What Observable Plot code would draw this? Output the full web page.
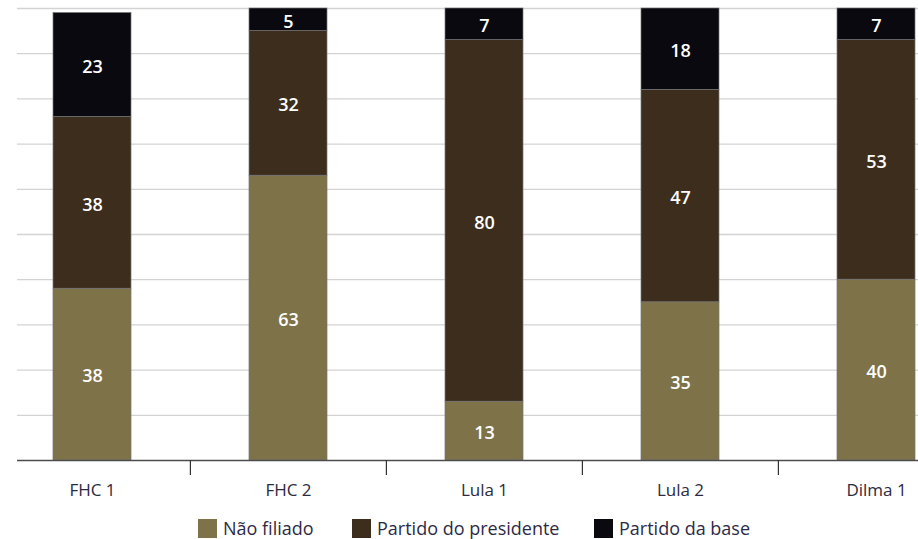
<!DOCTYPE html>
<html>
<head>
<meta charset="utf-8">
<script src="https://cdn.jsdelivr.net/npm/d3@7"></script>
<script src="https://cdn.jsdelivr.net/npm/@observablehq/plot@0.6"></script>
<style>
  body { margin: 0; background: #fff; font-family: "Open Sans", sans-serif; }
  #chart { position: relative; width: 918px; height: 539px; overflow: hidden; }
  #chart svg { display: block; }
  .legend { position: absolute; left: 0; top: 519px; width: 918px; height: 20px;
            font-size: 18px; color: #2e2a45; line-height: 19px; white-space: nowrap; }
  .legend .item { position: absolute; top: 0; display: flex; align-items: center; }
  .legend .sw { width: 19px; height: 19px; margin-right: 6px; flex: none; }
</style>
</head>
<body>
<div id="chart"></div>
<script>
// Mandates and the share of each group (percent)
const mandates = ["FHC 1", "FHC 2", "Lula 1", "Lula 2", "Dilma 1"];
const naoFiliado = [38, 63, 13, 35, 40];
const partidoPresidente = [38, 32, 80, 47, 53];
const partidoBase = [23, 5, 7, 18, 7];

const groups = ["Não filiado", "Partido do presidente", "Partido da base"];
const groupColors = ["#7e7249", "#3d2d1d", "#09090f"];
const gridValues = [10, 20, 30, 40, 50, 60, 70, 80, 90, 100];

const series = [naoFiliado, partidoPresidente, partidoBase];
const rows = mandates.flatMap((m, i) =>
  groups.map((g, k) => ({mandato: m, grupo: g, valor: series[k][i]}))
);

const xRange = [-6, 975];
const step = (xRange[1] - xRange[0]) / mandates.length;

const chart = Plot.plot({
  width: 918,
  height: 510,
  marginTop: 8,
  marginBottom: 50,
  marginLeft: 17,
  marginRight: 0,
  style: {fontFamily: "'Open Sans', sans-serif", fontSize: "17px", color: "#2b2a40", background: "#fff"},
  x: {domain: mandates, range: xRange, paddingInner: 0.6, paddingOuter: 0.3, label: null},
  y: {domain: [0, 100], axis: null},
  color: {domain: groups, range: groupColors},
  marks: [
    Plot.ruleY(gridValues, {stroke: "#d3d3d3", strokeWidth: 1.3}),
    Plot.barY(rows, {x: "mandato", y: "valor", fill: "grupo", stroke: "#777", strokeWidth: 0.7}),
    Plot.text(rows, Plot.stackY({
      x: "mandato", y: "valor", text: d => String(d.valor),
      fill: "#fff", fontSize: 18, fontWeight: 600, dy: 2
    })),
    Plot.ruleY([0], {stroke: "#4d4d4d", strokeWidth: 1.5}),
    Plot.ruleX(mandates.slice(1), {x: d => d, y1: 0, y2: 0, insetBottom: -15, dx: -step / 2, stroke: "#333", strokeWidth: 1.2}),
    Plot.axisX({tickSize: 0, tickPadding: 23, fontSize: 17, label: null})
  ]
});

const root = document.getElementById("chart");
root.appendChild(chart);

// Legend below the plot
const legendLeft = [198, 352, 594];
const legend = document.createElement("div");
legend.className = "legend";
groups.forEach((g, k) => {
  const item = document.createElement("div");
  item.className = "item";
  item.style.left = legendLeft[k] + "px";
  const sw = document.createElement("span");
  sw.className = "sw";
  sw.style.background = groupColors[k];
  const label = document.createElement("span");
  label.textContent = g;
  item.appendChild(sw);
  item.appendChild(label);
  legend.appendChild(item);
});
root.appendChild(legend);
</script>
</body>
</html>
